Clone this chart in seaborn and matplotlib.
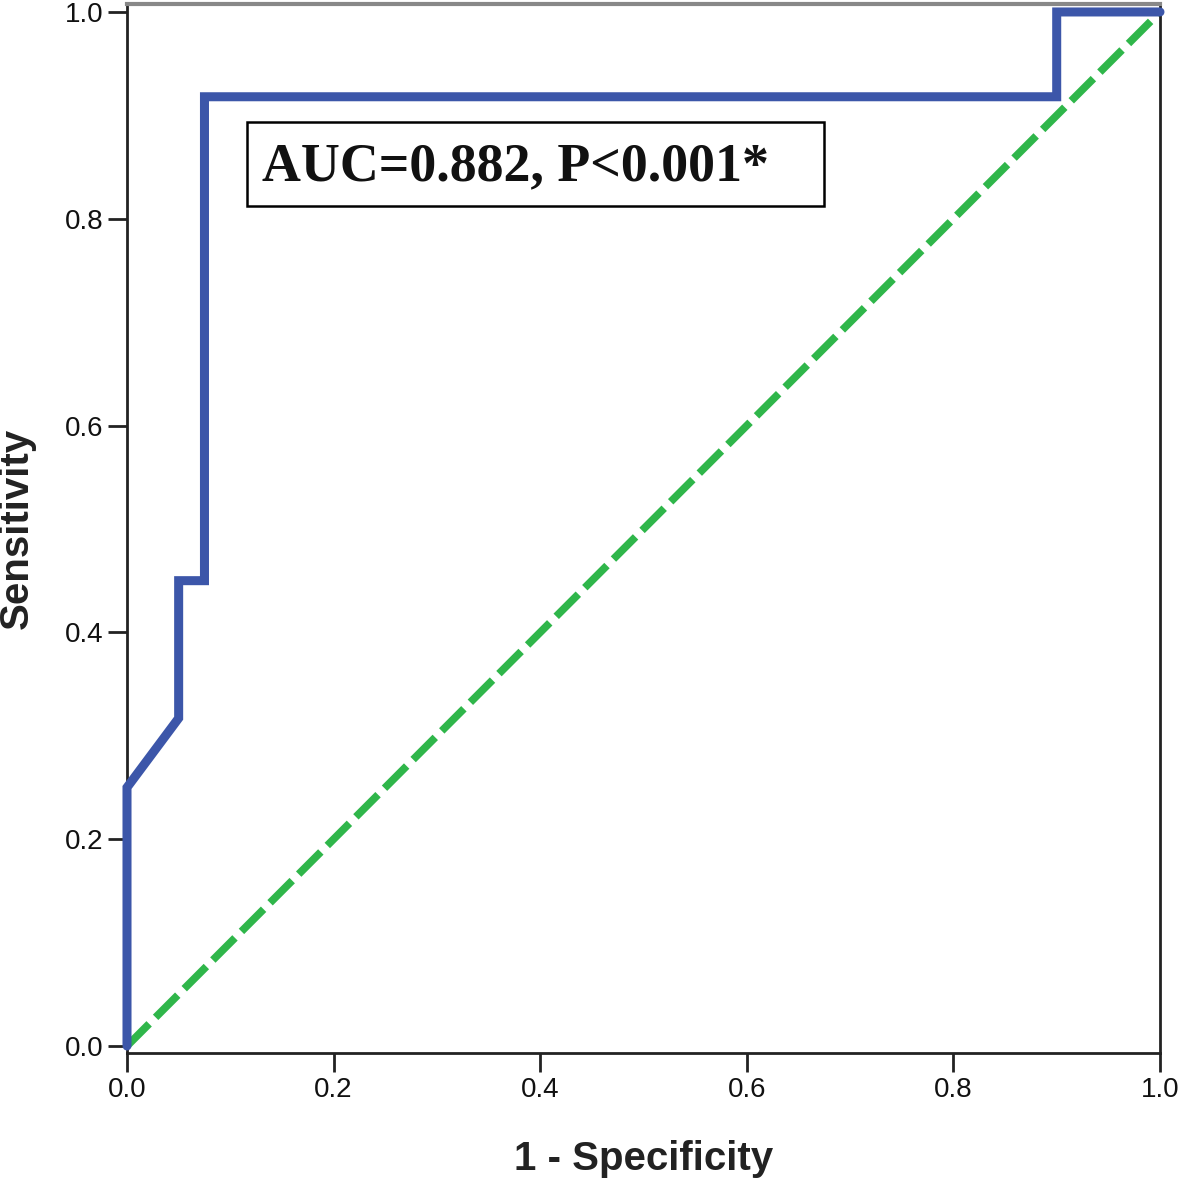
import matplotlib
matplotlib.use("Agg")
import matplotlib.pyplot as plt
import seaborn as sns
import pandas as pd
from matplotlib.patches import Rectangle

# ROC curve points (1 - specificity, sensitivity)
fpr = [0.0, 0.0, 0.05, 0.05, 0.075, 0.075, 0.90, 0.90, 1.0]
tpr = [0.0, 0.25, 0.317, 0.45, 0.45, 0.918, 0.918, 1.0, 1.0]
ref_x = [0.0, 1.0]
ref_y = [0.0, 1.0]
ticks = [0.0, 0.2, 0.4, 0.6, 0.8, 1.0]
tick_labels = ["0.0", "0.2", "0.4", "0.6", "0.8", "1.0"]
annotation = "AUC=0.882, P<0.001*"

sns.set_theme(style="white")
plt.rcParams['font.family'] = ['Liberation Sans', 'DejaVu Sans']

fig = plt.figure(figsize=(11.81, 11.84), dpi=100)
ax = fig.add_axes([127/1181, 1 - 1053/1184, (1160-127)/1181, (1053-4)/1184])

roc = pd.DataFrame({"fpr": fpr, "tpr": tpr})
ref = pd.DataFrame({"x": ref_x, "y": ref_y})

sns.lineplot(data=ref, x="x", y="y", ax=ax, color="#2fb64a", lw=5.5,
             estimator=None, sort=False, dashes=False, zorder=2)
ax.lines[-1].set_dashes([4.1, 1.2])
ax.lines[-1].set_dash_capstyle("butt")
sns.lineplot(data=roc, x="fpr", y="tpr", ax=ax, color="#3c56a9", lw=6.5,
             estimator=None, sort=False, zorder=3)
for ln in ax.lines:
    ln.set_clip_on(False)
    ln.set_solid_joinstyle("miter")

ax.set_xlim(0, 1.0)
ax.set_ylim(-0.0068, 1.0077)
ax.set_xticks(ticks)
ax.set_xticklabels(tick_labels)
ax.set_yticks(ticks)
ax.set_yticklabels(tick_labels)
ax.tick_params(axis="both", direction="out", length=14, width=2, color="#222222",
               labelsize=20, pad=3, left=True, bottom=True, labelcolor="#111111")

for side, sp in ax.spines.items():
    sp.set_visible(True)
    sp.set_linewidth(2)
    sp.set_color("#222222")
ax.spines["top"].set_color("#888888")
ax.spines["top"].set_linewidth(3)

ax.set_xlabel("1 - Specificity", fontsize=29, fontweight="bold", color="#222222")
ax.set_ylabel("Sensitivity", fontsize=29, fontweight="bold", color="#222222")
ax.xaxis.set_label_coords(0.5, -0.083)
ax.yaxis.set_label_coords(-0.088, 0.5)

# annotation box
ax.add_patch(Rectangle((0.1162, 0.8124), 0.6747 - 0.1162, 0.8936 - 0.8124,
                       fill=True, facecolor="white", edgecolor="black", lw=1.8, zorder=4))
ax.text(0.1307, 0.850, annotation, fontsize=38.8, fontweight="bold",
        family=["Liberation Serif", "DejaVu Serif"], ha="left", va="center",
        color="#111111", zorder=5)

fig.savefig("out.png", dpi=100, facecolor="white")
